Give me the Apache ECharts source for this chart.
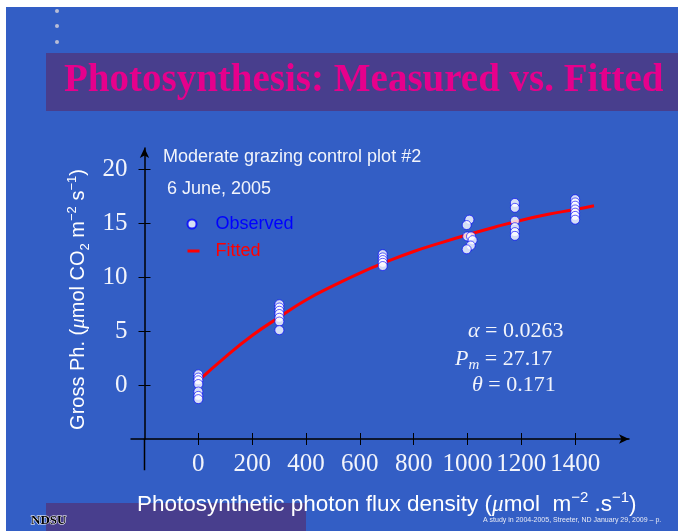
<!DOCTYPE html>
<html><head><meta charset="utf-8">
<script src="https://cdn.jsdelivr.net/npm/echarts@6/dist/echarts.min.js"></script>
<style>html,body{margin:0;padding:0;background:#fff}#c{width:678px;height:531px}</style>
</head><body><div id="c"></div>
<script>
// ---- data ----
const xTicks = [0, 200, 400, 600, 800, 1000, 1200, 1400];
const yTicks = [0, 5, 10, 15, 20];
const observedPAR = [
  0, 0, 0, 0, 0, 0, 0,
  301, 301, 301, 301, 301, 301, 301,
  685, 685, 685, 685, 685,
  1007, 997, 999, 1013, 1019, 1012, 997,
  1176, 1176, 1176, 1176, 1176, 1176,
  1400, 1400, 1400, 1400, 1400, 1400, 1400
];
const observedGross = [
  1.0, 0.7, 0.45, 0.1, -0.6, -1.0, -1.3,
  7.5, 7.2, 6.9, 6.6, 6.25, 5.9, 5.1,
  12.15, 11.85, 11.6, 11.35, 11.05,
  15.35, 14.85, 13.8, 13.8, 13.45, 12.95, 12.6,
  16.9, 16.45, 15.25, 14.65, 14.2, 13.85,
  17.25, 16.95, 16.65, 16.3, 16.0, 15.7, 15.35
];
const fittedPAR = [0, 100, 200, 300, 400, 500, 600, 700, 800, 900, 1000, 1100, 1200, 1300, 1400, 1470];
const fittedGross = [0.4, 2.6, 4.6, 6.3, 7.9, 9.2, 10.4, 11.45, 12.4, 13.2, 13.95, 14.65, 15.3, 15.85, 16.3, 16.65];
const seriesNames = ['Observed', 'Fitted'];
const chartTitle = 'Photosynthesis: Measured vs. Fitted';
const subtitleLines = ['Moderate grazing control plot #2', '6 June, 2005'];

const serif = 'Liberation Serif';
const sans = 'Liberation Sans';
const txt = '#F2F4FB';

const chart = echarts.init(document.getElementById('c'));
const supStyle = {fontSize: 13, lineHeight: 13, verticalAlign: 'top', fontFamily: sans, color: '#fff'};
const subStyle = {fontSize: 13, lineHeight: 13, verticalAlign: 'bottom', fontFamily: sans, color: '#fff'};
const muStyle = {fontFamily: serif, fontStyle: 'italic', color: '#fff'};

const option = {
  backgroundColor: '#ffffff',
  animation: false,
  graphic: [
    {id: 'bg', type: 'rect', z: -20, silent: true, shape: {x: 6, y: 7, width: 672, height: 524}, style: {fill: '#335EC5'}},
    {id: 'band', type: 'rect', z: -19, silent: true, shape: {x: 46, y: 53, width: 632, height: 58}, style: {fill: '#483E8D'}},
    {id: 'band2', type: 'rect', z: -19, silent: true, shape: {x: 46, y: 503, width: 260, height: 28}, style: {fill: '#483E8D'}},
    {id: 'd1', type: 'circle', z: -18, silent: true, shape: {cx: 57, cy: 11, r: 2}, style: {fill: '#b9bdd6'}},
    {id: 'd2', type: 'circle', z: -18, silent: true, shape: {cx: 57, cy: 26, r: 2}, style: {fill: '#b9bdd6'}},
    {id: 'd3', type: 'circle', z: -18, silent: true, shape: {cx: 57, cy: 42, r: 2}, style: {fill: '#b9bdd6'}}
  ],
  title: [
    {text: chartTitle, left: 64, top: 61, padding: 0,
     textStyle: {fontFamily: serif, fontWeight: 'bold', fontSize: 39, color: '#E6008C'}},
    {text: subtitleLines[0], left: 163, top: 148, padding: 0,
     textStyle: {fontFamily: sans, fontSize: 18, fontWeight: 'normal', color: txt}},
    {text: subtitleLines[1], left: 167, top: 180, padding: 0,
     textStyle: {fontFamily: sans, fontSize: 18, fontWeight: 'normal', color: txt}},
    {text: '{g|α} = 0.0263', left: 468, top: 320, padding: 0,
     textStyle: {fontFamily: serif, fontSize: 22, fontWeight: 'normal', color: txt,
       rich: {g: {fontFamily: serif, fontStyle: 'italic', fontSize: 22, color: txt}}}},
    {text: '{g|P}{s|m} = 27.17', left: 455, top: 345, padding: 0,
     textStyle: {fontFamily: serif, fontSize: 22, fontWeight: 'normal', color: txt, lineHeight: 28,
       rich: {g: {fontFamily: serif, fontStyle: 'italic', fontSize: 22, color: txt, lineHeight: 28},
              s: {fontFamily: serif, fontStyle: 'italic', fontSize: 15, color: txt, lineHeight: 20, verticalAlign: 'bottom'}}}},
    {text: '{g|θ} = 0.171', left: 472, top: 374, padding: 0,
     textStyle: {fontFamily: serif, fontSize: 22, fontWeight: 'normal', color: txt,
       rich: {g: {fontFamily: serif, fontStyle: 'italic', fontSize: 22, color: txt}}}},
    {text: 'A study in 2004-2005, Streeter, ND January 29, 2009 – p.', left: 483, top: 517, padding: 0,
     textStyle: {fontFamily: sans, fontSize: 7, fontWeight: 'normal', color: '#e8eaf4'}},
    {text: 'NDSU', left: 31, top: 514, padding: 0,
     textStyle: {fontFamily: serif, fontSize: 13, fontWeight: 'bold', color: '#000', textBorderColor: '#fff', textBorderWidth: 1}}
  ],
  legend: [
    {data: [{name: seriesNames[0], textStyle: {color: '#0000FF'}}], left: 186.5, top: 215, padding: 0,
     icon: 'circle', itemWidth: 9, itemHeight: 9, selectedMode: false,
     textStyle: {fontFamily: sans, fontSize: 18, padding: [0, 0, 0, 14]}},
    {data: [{name: seriesNames[1], textStyle: {color: '#FF0000'}}], left: 187.5, top: 242, padding: 0,
     icon: 'rect', itemWidth: 12, itemHeight: 3, selectedMode: false,
     textStyle: {fontFamily: sans, fontSize: 18, padding: [0, 0, 0, 11]}}
  ],
  grid: {left: 144.5, right: 49, top: 148, bottom: 92, containLabel: false, outerBoundsMode: 'none'},
  xAxis: [
    {type: 'value', min: -200, max: 1600, interval: 200,
     axisLine: {onZero: false, lineStyle: {color: '#000', width: 1.5}, symbol: ['none', 'arrow'], symbolSize: [7, 10]},
     axisTick: {show: true, length: 6, customValues: xTicks, lineStyle: {color: '#000', width: 1}},
     axisLabel: {customValues: xTicks, formatter: v => String(v), hideOverlap: false,
       color: txt, fontFamily: serif, fontSize: 25, margin: 13},
     splitLine: {show: false},
     name: 'Photosynthetic photon flux density ({mu|μ}mol  m{sup|−2} .s{sup|−1})',
     nameLocation: 'middle', nameGap: 51,
     nameTextStyle: {fontFamily: sans, fontSize: 22.5, color: '#fff', lineHeight: 30,
       rich: {mu: Object.assign({}, muStyle, {fontSize: 23, lineHeight: 30}), sup: Object.assign({}, supStyle, {fontSize: 15, lineHeight: 15})}}},
    {type: 'value', min: -200, max: 1600, interval: 200, position: 'bottom',
     axisLine: {show: false, onZero: false},
     axisTick: {show: true, inside: true, length: 6, customValues: xTicks, lineStyle: {color: '#000', width: 1}},
     axisLabel: {show: false}, splitLine: {show: false}}
  ],
  yAxis: [
    {type: 'value', min: -5, max: 22, interval: 5,
     axisLine: {onZero: false, lineStyle: {color: '#000', width: 1.5}, symbol: ['none', 'arrow'], symbolSize: [7, 10]},
     axisTick: {show: true, length: 6, customValues: yTicks, lineStyle: {color: '#000', width: 1}},
     axisLabel: {customValues: yTicks, formatter: v => String(v), color: txt, fontFamily: serif, fontSize: 25, margin: 17},
     splitLine: {show: false},
     name: 'Gross Ph. ({mu|μ}mol CO{sub|2} m{sup|−2} s{sup|−1})',
     nameLocation: 'middle', nameGap: 46, nameRotate: 90,
     nameTextStyle: {fontFamily: sans, fontSize: 20, color: '#fff', lineHeight: 26, padding: [0, 12, 0, 0],
       rich: {mu: Object.assign({}, muStyle, {fontSize: 21, lineHeight: 26}), sup: supStyle, sub: subStyle}}},
    {type: 'value', min: -5, max: 22, interval: 5, position: 'left',
     axisLine: {show: false, onZero: false},
     axisTick: {show: true, inside: true, length: 6, customValues: yTicks, lineStyle: {color: '#000', width: 1}},
     axisLabel: {show: false}, splitLine: {show: false}}
  ],
  series: [
    {name: seriesNames[1], type: 'line', xAxisIndex: 0, yAxisIndex: 0, z: 2,
     data: fittedPAR.map((v, i) => [v, fittedGross[i]]),
     smooth: true, symbol: 'none', itemStyle: {color: '#FF0000'},
     lineStyle: {color: '#FF0000', width: 3}},
    {name: seriesNames[0], type: 'scatter', xAxisIndex: 0, yAxisIndex: 0, z: 3,
     data: observedPAR.map((v, i) => [v, observedGross[i]]),
     symbol: 'circle', symbolSize: 9,
     itemStyle: {color: '#FFFFFF', borderColor: '#0000FF', borderWidth: 0.8}}
  ]
};
chart.setOption(option);

// axis overhang beyond the crossing point (as in the reference)
const corner = chart.convertToPixel({xAxisIndex: 0, yAxisIndex: 0}, [-200, -5]);
const leftEnd = chart.convertToPixel({xAxisIndex: 0, yAxisIndex: 0}, [-252, -5]);
const downEnd = chart.convertToPixel({xAxisIndex: 0, yAxisIndex: 0}, [-200, -7.9]);
chart.setOption({graphic: [
  {id: 'ox', type: 'line', z: 5, silent: true, shape: {x1: leftEnd[0], y1: corner[1], x2: corner[0], y2: corner[1]}, style: {stroke: '#000', lineWidth: 1.5}},
  {id: 'oy', type: 'line', z: 5, silent: true, shape: {x1: corner[0], y1: corner[1], x2: corner[0], y2: downEnd[1]}, style: {stroke: '#000', lineWidth: 1.5}}
]});
</script></body></html>
